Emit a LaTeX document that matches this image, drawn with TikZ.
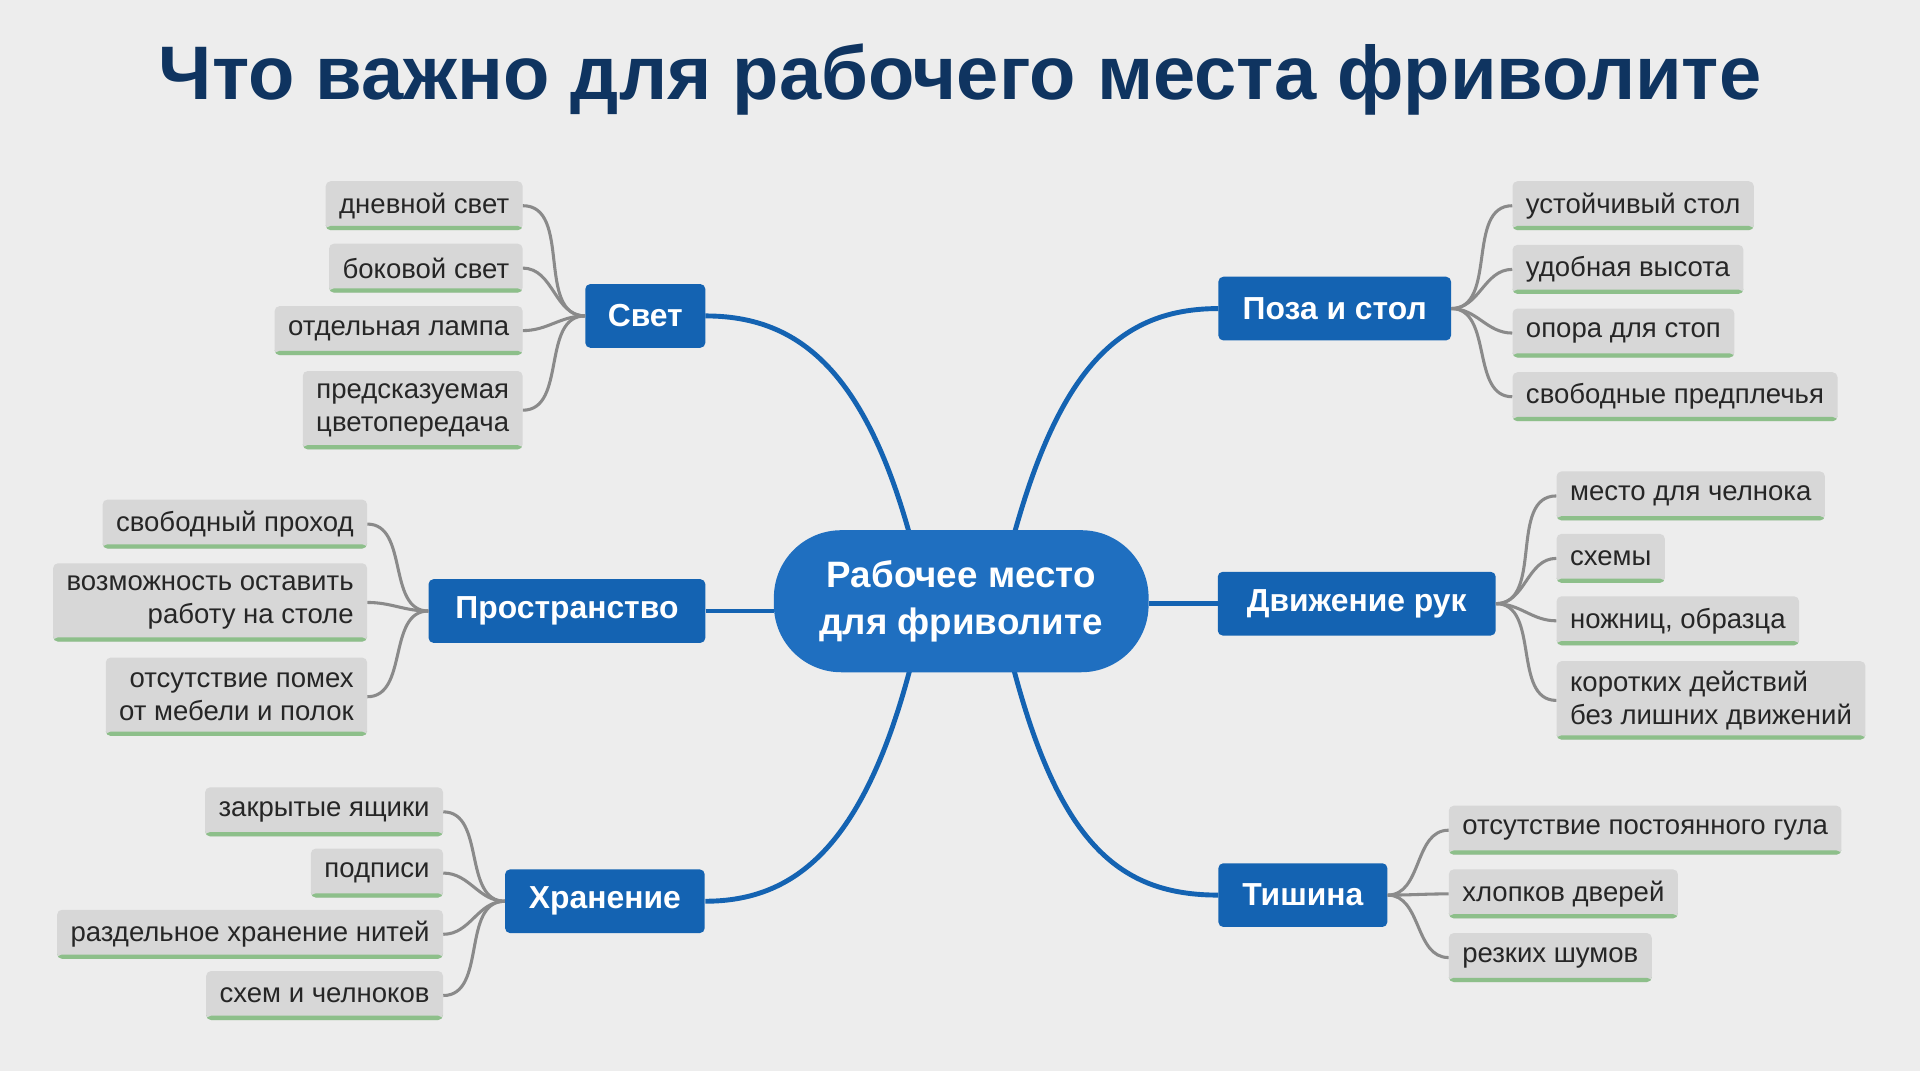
\documentclass[tikz,border=0pt]{standalone}
\usepackage{fontspec}
\setmainfont{Liberation Sans}
\definecolor{bg}{HTML}{EDEDED}
\definecolor{navy}{HTML}{0F3460}
\definecolor{cblue}{HTML}{1F6FC0}
\definecolor{bblue}{HTML}{1463B2}
\definecolor{lgray}{HTML}{D7D7D7}
\definecolor{lgreen}{HTML}{8DBF8A}
\definecolor{cgray}{HTML}{8A8A8A}
\begin{document}
\begin{tikzpicture}[x=1pt,y=-1pt,
 leaf/.style={fill=lgray,rounded corners=4pt,inner xsep=11pt,inner ysep=0pt,minimum height=40pt,
   font=\fontsize{22.5}{27}\selectfont,text=black!85,
   path picture={\fill[lgreen] ([yshift=3.5pt]path picture bounding box.south west) rectangle (path picture bounding box.south east);}},
 leaf2/.style={leaf,minimum height=64pt},
 branch/.style={fill=bblue,rounded corners=4pt,minimum height=52pt,inner xsep=14pt,text=white,font=\fontsize{26}{30}\selectfont\bfseries},
 leafline/.style={draw=cgray,line width=2.5pt},
 mainline/.style={draw=bblue,line width=4pt}]
\fill[bg] (0,0) rectangle (1568,875);
\useasboundingbox (0,0) rectangle (1568,875);
\node[text=navy,font=\fontsize{62}{64}\selectfont\bfseries] (title) at (784,65) {Что важно для рабочего места фриволите};
% main connectors
\coordinate (c1) at (743,437);
\coordinate (c2) at (743,547);
\coordinate (c3) at (828,437);
\coordinate (c4) at (828,547);
\draw[mainline] (c1) .. controls (705,300) and (650,258) .. (576,258);
\draw[mainline] (c2) .. controls (705,690) and (650,736) .. (576,736);
\draw[mainline] (c3) .. controls (866,300) and (915,252) .. (995,252);
\draw[mainline] (c4) .. controls (866,690) and (915,731) .. (995,731);
\node[fill=cblue,rounded corners=55pt,minimum width=306pt,minimum height=116pt,align=center,text=white,font=\fontsize{30}{38}\selectfont\bfseries] (c) at (785,491) {Рабочее место\\для фриволите};
% branches
\node[branch,minimum width=98pt] (svet) at (527,258) {Свет};
\node[branch,minimum width=226pt] (prost) at (463,499) {Пространство};
\node[branch,minimum width=163pt] (hran) at (494,736) {Хранение};
\node[branch,minimum width=190pt] (poza) at (1090,252) {Поза и стол};
\node[branch,minimum width=227pt] (dvij) at (1108,493) {Движение рук};
\node[branch,minimum width=138pt] (tish) at (1064,731) {Тишина};
\draw[mainline] (prost.east) -- (prost.east -| c.west);
\draw[mainline] (dvij.west) -- (dvij.west -| c.east);
% Svet leaves
\node[leaf,anchor=east] (s1) at (427,168) {дневной свет};
\node[leaf,anchor=east] (s2) at (427,219) {боковой свет};
\node[leaf,anchor=east] (s3) at (427,270) {отдельная лампа};
\node[leaf2,anchor=east,align=right] (s4) at (427,335) {предсказуемая\\цветопередача};
\foreach \n in {s1,s2,s3,s4} \draw[leafline] (\n.east) to[out=0,in=180] (svet.west);
% Prostranstvo leaves
\node[leaf,anchor=east] (p1) at (300,428) {свободный проход};
\node[leaf2,anchor=east,align=right] (p2) at (300,492) {возможность оставить\\работу на столе};
\node[leaf2,anchor=east,align=right] (p3) at (300,569) {отсутствие помех\\от мебели и полок};
\foreach \n in {p1,p2,p3} \draw[leafline] (\n.east) to[out=0,in=180] (prost.west);
% Hranenie leaves
\node[leaf,anchor=east] (h1) at (362,663) {закрытые ящики};
\node[leaf,anchor=east] (h2) at (362,713) {подписи};
\node[leaf,anchor=east] (h3) at (362,763) {раздельное хранение нитей};
\node[leaf,anchor=east] (h4) at (362,813) {схем и челноков};
\foreach \n in {h1,h2,h3,h4} \draw[leafline] (\n.east) to[out=0,in=180] (hran.west);
% Poza leaves
\node[leaf,anchor=west] (z1) at (1235,168) {устойчивый стол};
\node[leaf,anchor=west] (z2) at (1235,220) {удобная высота};
\node[leaf,anchor=west] (z3) at (1235,272) {опора для стоп};
\node[leaf,anchor=west] (z4) at (1235,324) {свободные предплечья};
\foreach \n in {z1,z2,z3,z4} \draw[leafline] (\n.west) to[out=180,in=0] (poza.east);
% Dvizhenie leaves
\node[leaf,anchor=west] (d1) at (1271,405) {место для челнока};
\node[leaf,anchor=west] (d2) at (1271,456) {схемы};
\node[leaf,anchor=west] (d3) at (1271,507) {ножниц, образца};
\node[leaf2,anchor=west,align=left] (d4) at (1271,572) {коротких действий\\без лишних движений};
\foreach \n in {d1,d2,d3,d4} \draw[leafline] (\n.west) to[out=180,in=0] (dvij.east);
% Tishina leaves
\node[leaf,anchor=west] (t1) at (1183,678) {отсутствие постоянного гула};
\node[leaf,anchor=west] (t2) at (1183,730) {хлопков дверей};
\node[leaf,anchor=west] (t3) at (1183,782) {резких шумов};
\foreach \n in {t1,t2,t3} \draw[leafline] (\n.west) to[out=180,in=0] (tish.east);
\end{tikzpicture}
\end{document}
